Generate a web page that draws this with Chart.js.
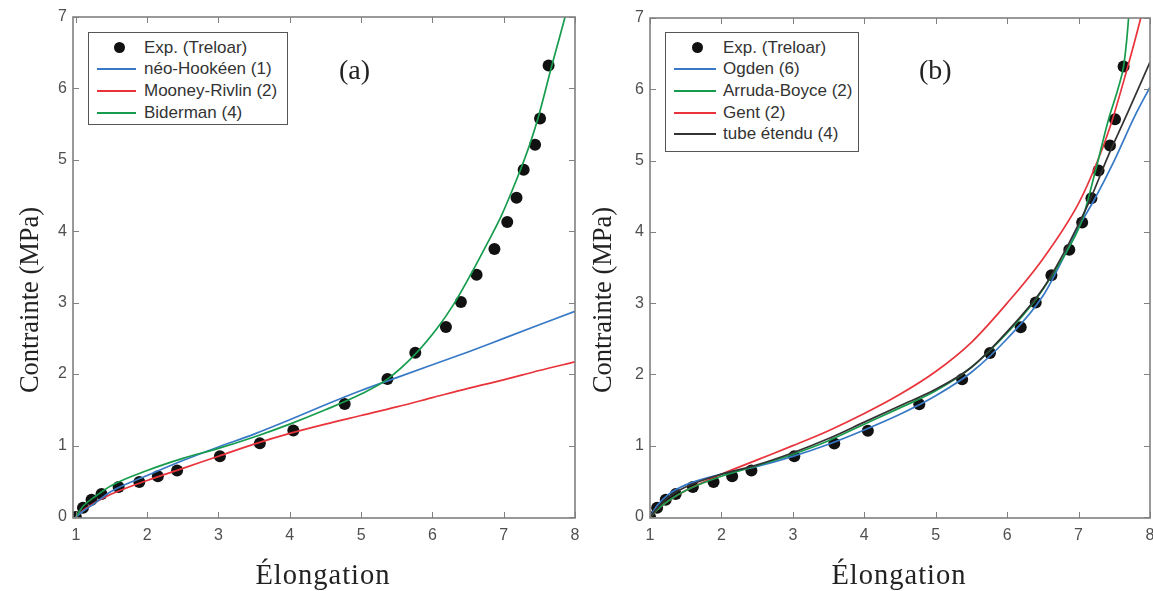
<!DOCTYPE html>
<html>
<head>
<meta charset="utf-8">
<script src="https://cdn.jsdelivr.net/npm/chart.js@4.4.1/dist/chart.umd.min.js"></script>
<style>
body { margin: 0; background: #fff; width: 1153px; height: 591px; overflow: hidden; position: relative; font-family: "Liberation Sans", Arial, sans-serif; }
.panel { position: absolute; top: 0; }
.legend { position: absolute; box-sizing: border-box; border: 1px solid #555; background: #fff; color: #333; font-size: 17px; }
.row { display: flex; align-items: center; height: 21.6px; white-space: nowrap; }
.key { position: relative; height: 12px; flex: none; }
.key .ln { position: absolute; left: 0; right: 0; top: 5px; height: 2px; }
.key .dot { position: absolute; top: 0; width: 11px; height: 11px; border-radius: 50%; background: #111; }
.tag { position: absolute; font-family: "Liberation Serif", "DejaVu Serif", serif; font-size: 28px; color: #222; line-height: 32px; }
.xt { position: absolute; top: 559px; width: 300px; margin-left: -150px; text-align: center; font-family: "Liberation Serif", "DejaVu Serif", serif; font-size: 28.5px; line-height: 32px; letter-spacing: 1px; color: #222; }
.yt { position: absolute; top: 300px; width: 300px; text-align: center; font-family: "Liberation Serif", "DejaVu Serif", serif; font-size: 26.5px; line-height: 30px; color: #222; transform: translate(-50%, -50%) rotate(-90deg); }
</style>
</head>
<body>
<canvas id="chartA" class="panel" width="590" height="591" style="left:0"></canvas>
<canvas id="chartB" class="panel" width="576" height="591" style="left:577px"></canvas>
<div class="tag" style="left:339px;top:54px">(a)</div>
<div class="tag" style="left:919px;top:54px">(b)</div>
<div class="xt" style="left:323px">Élongation</div>
<div class="xt" style="left:899px">Élongation</div>
<div class="yt" style="left:29px">Contrainte (MPa)</div>
<div class="yt" style="left:602px">Contrainte (MPa)</div>
<div id="legendA" class="legend" style="left:88px;top:32px;width:200px;height:93px;padding-top:4px"></div>
<div id="legendB" class="legend" style="left:665px;top:32px;width:194px;height:120px;padding-top:4px"></div>
<script>
// Treloar experimental data (same points in both panels)
const expStretch = [1.0, 1.1, 1.22, 1.36, 1.6, 1.89, 2.15, 2.42, 3.02, 3.58, 4.05, 4.77, 5.37, 5.76, 6.19, 6.4, 6.62, 6.87, 7.05, 7.18, 7.28, 7.44, 7.51, 7.63]
const expStress = [0, 0.13, 0.24, 0.32, 0.42, 0.49, 0.57, 0.65, 0.85, 1.03, 1.21, 1.58, 1.93, 2.3, 2.66, 3.01, 3.39, 3.75, 4.13, 4.47, 4.86, 5.21, 5.58, 6.32]

// panel (a)
const neoStretch = [1, 1.1, 1.25, 1.5, 2, 2.5, 3, 3.5, 4, 4.5, 5, 5.5, 6, 6.5, 7, 7.5, 8]
const neoStress = [0, 0.08, 0.18, 0.36, 0.58, 0.79, 0.98, 1.16, 1.36, 1.57, 1.77, 1.95, 2.13, 2.31, 2.5, 2.69, 2.88]
const mrStretch = [1, 1.1, 1.25, 1.5, 2, 2.5, 3, 3.5, 4, 4.5, 5, 5.5, 6, 6.5, 7, 7.5, 8]
const mrStress = [0, 0.09, 0.19, 0.32, 0.51, 0.68, 0.85, 1.02, 1.17, 1.3, 1.42, 1.54, 1.67, 1.8, 1.92, 2.05, 2.17]
const bidStretch = [1, 1.1, 1.25, 1.5, 2, 2.5, 3, 3.5, 4, 4.5, 5, 5.37, 5.76, 6.08, 6.3, 6.53, 6.77, 6.96, 7.11, 7.25, 7.37, 7.48, 7.67, 7.86, 7.93]
const bidStress = [0, 0.15, 0.27, 0.44, 0.65, 0.82, 0.96, 1.12, 1.3, 1.5, 1.72, 1.93, 2.28, 2.66, 2.98, 3.38, 3.83, 4.2, 4.55, 4.9, 5.23, 5.58, 6.3, 7.0, 7.28]

// panel (b)
const ogdenStretch = [1, 1.1, 1.25, 1.5, 2, 2.5, 3, 3.5, 4, 4.5, 5, 5.5, 6, 6.5, 6.84, 7.03, 7.22, 7.5, 7.78, 8]
const ogdenStress = [0, 0.16, 0.31, 0.45, 0.6, 0.71, 0.85, 1.02, 1.22, 1.44, 1.7, 2.03, 2.5, 3.1, 3.74, 4.12, 4.45, 5.0, 5.61, 6.03]
const abStretch = [1, 1.1, 1.25, 1.5, 2, 2.5, 3, 3.5, 4, 4.5, 5, 5.5, 6, 6.4, 6.63, 6.86, 7.05, 7.24, 7.42, 7.55, 7.63, 7.67, 7.7, 7.72]
const abStress = [0, 0.1, 0.22, 0.37, 0.57, 0.72, 0.88, 1.07, 1.3, 1.53, 1.77, 2.1, 2.58, 3.05, 3.39, 3.77, 4.17, 4.87, 5.58, 6.0, 6.32, 6.65, 7.0, 7.3]
const gentStretch = [1, 1.1, 1.25, 1.5, 2, 2.5, 3, 3.5, 4, 4.5, 5, 5.5, 6, 6.5, 7, 7.26, 7.45, 7.65, 7.87, 7.95]
const gentStress = [0, 0.1, 0.22, 0.37, 0.6, 0.8, 1.0, 1.21, 1.45, 1.72, 2.04, 2.45, 3.0, 3.62, 4.4, 4.98, 5.5, 6.18, 7.0, 7.35]
const tubeStretch = [1, 1.1, 1.25, 1.5, 2, 2.5, 3, 3.5, 4, 4.5, 5, 5.5, 6, 6.5, 6.84, 7.03, 7.17, 7.4, 7.7, 8]
const tubeStress = [0, 0.12, 0.27, 0.42, 0.6, 0.73, 0.9, 1.1, 1.33, 1.56, 1.79, 2.1, 2.6, 3.2, 3.79, 4.17, 4.47, 5.03, 5.7, 6.38]

const stretchTicks = [1, 2, 3, 4, 5, 6, 7, 8]
const stressTicks = [0, 1, 2, 3, 4, 5, 6, 7]

const BLUE = '#3779c6', RED = '#e8333b', GREEN = '#169c4c', BLACK = '#333333'

const pts = (xs, ys) => xs.map((x, i) => ({ x: x, y: ys[i] }))

function curve(label, xs, ys, color) {
	return {
		label: label,
		data: pts(xs, ys),
		showLine: true,
		borderColor: color,
		backgroundColor: color,
		borderWidth: 1.7,
		pointRadius: 0,
		cubicInterpolationMode: 'monotone'
	}
}

function dots() {
	return {
		label: 'Exp. (Treloar)',
		data: pts(expStretch, expStress),
		showLine: false,
		pointRadius: 6,
		pointBackgroundColor: '#111',
		pointBorderColor: '#111',
		pointBorderWidth: 0
	}
}

// box round the plot area and ticks pointing inwards on all four sides
const framePlugin = {
	id: 'frame',
	afterDraw(chart) {
		const { ctx, chartArea: a, scales: { x, y } } = chart
		ctx.save()
		ctx.strokeStyle = '#808080'
		ctx.lineWidth = 1
		for (const t of x.ticks) {
			const px = Math.round(x.getPixelForValue(t.value)) + 0.5
			ctx.beginPath()
			ctx.moveTo(px, a.bottom); ctx.lineTo(px, a.bottom - 6)
			ctx.moveTo(px, a.top); ctx.lineTo(px, a.top + 6)
			ctx.stroke()
		}
		for (const t of y.ticks) {
			const py = Math.round(y.getPixelForValue(t.value)) + 0.5
			ctx.beginPath()
			ctx.moveTo(a.left, py); ctx.lineTo(a.left + 6, py)
			ctx.moveTo(a.right, py); ctx.lineTo(a.right - 6, py)
			ctx.stroke()
		}
		ctx.lineWidth = 1.6
		ctx.strokeRect(a.left, a.top, a.right - a.left, a.bottom - a.top)
		ctx.restore()
	}
}

function makeChart(id, datasets, xMin, padRight, padTop) {
	const tickFont = { family: '"Liberation Sans", Arial, sans-serif', size: 16 }
	return new Chart(document.getElementById(id), {
		type: 'scatter',
		data: { datasets: datasets },
		plugins: [framePlugin],
		options: {
			responsive: false,
			animation: false,
			layout: { autoPadding: false, padding: { left: 0, right: padRight, top: padTop, bottom: 0 } },
			plugins: { legend: { display: false }, tooltip: { enabled: false } },
			scales: {
				x: {
					type: 'linear',
					min: xMin,
					max: 8,
					afterBuildTicks: s => { s.ticks = stretchTicks.map(v => ({ value: v })) },
					afterFit: s => { s.height = 73; s.paddingLeft = 0; s.paddingRight = 0 },
					grid: { display: false, drawTicks: false },
					border: { display: false },
					ticks: { padding: 8, color: '#505050', font: tickFont, maxRotation: 0 }
				},
				y: {
					type: 'linear',
					min: -0.015,
					max: 7,
					afterBuildTicks: s => { s.ticks = stressTicks.map(v => ({ value: v })) },
					afterFit: s => { s.width = 73; s.paddingTop = 0; s.paddingBottom = 0 },
					grid: { display: false, drawTicks: false },
					border: { display: false },
					ticks: { padding: 6, color: '#505050', font: tickFont }
				}
			}
		}
	})
}

const seriesA = [
	curve('néo-Hookéen (1)', neoStretch, neoStress, BLUE),
	curve('Mooney-Rivlin (2)', mrStretch, mrStress, RED),
	curve('Biderman (4)', bidStretch, bidStress, GREEN)
]
const seriesB = [
	curve('Ogden (6)', ogdenStretch, ogdenStress, BLUE),
	curve('Arruda-Boyce (2)', abStretch, abStress, GREEN),
	curve('Gent (2)', gentStretch, gentStress, RED),
	curve('tube étendu (4)', tubeStretch, tubeStress, BLACK)
]

// curves first so they are painted over the dots
makeChart('chartA', [seriesA[2], seriesA[0], seriesA[1], dots()], 0.96, 15, 17)
makeChart('chartB', [seriesB[3], seriesB[1], seriesB[2], seriesB[0], dots()], 1.0, 3, 18)

function buildLegend(el, series, keyLeft, keyWidth, gap) {
	const rows = [{ label: 'Exp. (Treloar)', dot: true }].concat(series.map(s => ({ label: s.label, color: s.borderColor })))
	for (const r of rows) {
		const row = document.createElement('div')
		row.className = 'row'
		const key = document.createElement('div')
		key.className = 'key'
		key.style.marginLeft = keyLeft + 'px'
		key.style.width = keyWidth + 'px'
		key.style.marginRight = gap + 'px'
		const mark = document.createElement('div')
		if (r.dot) {
			mark.className = 'dot'
			mark.style.left = (keyWidth / 2 - 3) + 'px'
		} else {
			mark.className = 'ln'
			mark.style.background = r.color
		}
		key.appendChild(mark)
		row.appendChild(key)
		const txt = document.createElement('span')
		txt.textContent = r.label
		row.appendChild(txt)
		el.appendChild(row)
	}
}

buildLegend(document.getElementById('legendA'), seriesA, 8, 39, 8)
buildLegend(document.getElementById('legendB'), seriesB, 8, 42, 7)
</script>
</body>
</html>
